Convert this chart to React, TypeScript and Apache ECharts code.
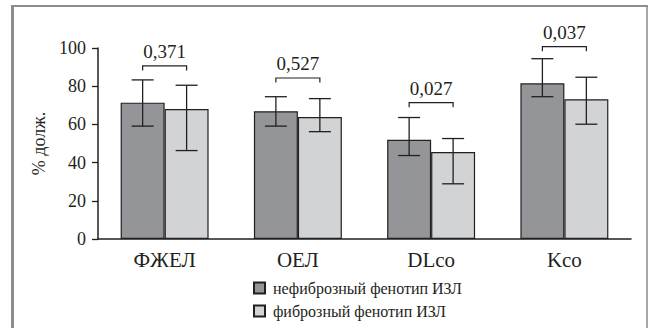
import React, { useEffect, useRef } from "react";
import * as echarts from "echarts";

const categories = ["ФЖЕЛ", "ОЕЛ", "DLco", "Kco"];
const seriesNames = ["нефиброзный фенотип ИЗЛ", "фиброзный фенотип ИЗЛ"];
const nonFibMean = [71.4, 66.9, 51.9, 81.5];
const nonFibLow = [59.1, 59.1, 43.7, 74.5];
const nonFibHigh = [83.3, 74.5, 63.6, 94.4];
const fibMean = [68.1, 63.9, 45.5, 73.2];
const fibLow = [46.3, 56.2, 28.9, 60.1];
const fibHigh = [80.5, 73.5, 52.6, 84.7];
const pLabels = ["0,371", "0,527", "0,027", "0,037"];
const bracketLevels = [90.6, 84.3, 71.4, 100.7];
const yName = "% долж.";

const FONT = "Liberation Serif";
const INK = "#231f20";
const DARK = "#939598";
const LIGHT = "#d1d3d4";
const BAR_FRAC = 0.165;

function errorSeries(low: number[], high: number[], sign: number) {
  return {
    type: "custom",
    silent: true,
    z: 5,
    data: categories.map((_, i) => [i, low[i], high[i]]),
    encode: { x: 0, y: [1, 2] },
    renderItem: (params: any, api: any) => {
      const cat = api.value(0);
      const lo = api.value(1);
      const hi = api.value(2);
      const band = api.size([1, 0])[0];
      const pLo = api.coord([cat, lo]);
      const pHi = api.coord([cat, hi]);
      const x = pLo[0] + sign * band * BAR_FRAC;
      const hc = band * BAR_FRAC * 0.5;
      const style = { stroke: INK, lineWidth: 1.3 };
      return {
        type: "group",
        children: [
          { type: "line", shape: { x1: x, y1: pHi[1], x2: x, y2: pLo[1] }, style },
          { type: "line", shape: { x1: x - hc, y1: pHi[1], x2: x + hc, y2: pHi[1] }, style },
          { type: "line", shape: { x1: x - hc, y1: pLo[1], x2: x + hc, y2: pLo[1] }, style },
        ],
      };
    },
  };
}

export default function App() {
  const ref = useRef<HTMLDivElement>(null);
  useEffect(() => {
    if (!ref.current) return;
    const chart = echarts.init(ref.current, undefined, { renderer: "svg" });
    chart.setOption({
      animation: false,
      backgroundColor: "#ffffff",
      textStyle: { fontFamily: FONT, color: INK },
      grid: { left: 98, top: 48, width: 533, bottom: 89 },
      legend: {
        data: seriesNames,
        orient: "vertical",
        left: 253,
        top: 280,
        padding: 0,
        itemWidth: 11,
        itemHeight: 11,
        itemGap: 7,
        icon: "rect",
        textStyle: { fontFamily: FONT, fontSize: 16, color: INK, padding: [0, 0, 0, 3] },
      },
      xAxis: {
        type: "category",
        data: categories,
        axisLine: { lineStyle: { color: INK, width: 1.5, opacity: 1 } },
        axisTick: { alignWithLabel: true, length: 6, lineStyle: { color: INK, width: 1.3 } },
        axisLabel: { fontFamily: FONT, fontSize: 21, color: INK, margin: 10 },
      },
      yAxis: {
        type: "value",
        min: 0,
        max: 100,
        interval: 20,
        name: yName,
        nameLocation: "middle",
        nameRotate: 90,
        nameGap: 42,
        nameTextStyle: { fontFamily: FONT, fontSize: 18, color: INK },
        axisLine: { show: true, lineStyle: { color: INK, width: 1.5, opacity: 1 } },
        axisTick: { show: true, length: 6, lineStyle: { color: INK, width: 1.3 } },
        axisLabel: { fontFamily: FONT, fontSize: 18, color: INK, margin: 12 },
        splitLine: { show: false },
      },
      series: [
        {
          name: seriesNames[0],
          type: "bar",
          data: nonFibMean,
          barGap: "0%",
          barCategoryGap: "34%",
          itemStyle: { color: DARK, borderColor: INK, borderWidth: 1.2 },
        },
        {
          name: seriesNames[1],
          type: "bar",
          data: fibMean,
          barGap: "0%",
          barCategoryGap: "34%",
          itemStyle: { color: LIGHT, borderColor: INK, borderWidth: 1.2 },
        },
        errorSeries(nonFibLow, nonFibHigh, -1),
        errorSeries(fibLow, fibHigh, 1),
        {
          type: "custom",
          silent: true,
          z: 6,
          data: categories.map((_, i) => [i, bracketLevels[i], pLabels[i]]),
          encode: { x: 0, y: 1 },
          renderItem: (params: any, api: any) => {
            const i = params.dataIndex;
            const band = api.size([1, 0])[0];
            const p = api.coord([i, bracketLevels[i]]);
            const off = band * BAR_FRAC;
            const x1 = p[0] - off;
            const x2 = p[0] + off;
            const y = p[1];
            return {
              type: "group",
              children: [
                {
                  type: "polyline",
                  shape: { points: [[x1, y + 4.5], [x1, y], [x2, y], [x2, y + 4.5]] },
                  style: { stroke: INK, lineWidth: 1.2, fill: "none" },
                },
                {
                  type: "text",
                  x: p[0],
                  y: y - 5,
                  style: {
                    text: pLabels[i],
                    fontFamily: FONT,
                    fontSize: 19,
                    fill: INK,
                    align: "center",
                    verticalAlign: "bottom",
                  },
                },
              ],
            };
          },
        },
      ],
      graphic: [
        { type: "line", shape: { x1: 12.5, y1: 6, x2: 12.5, y2: 328 }, style: { stroke: "#8c8c8c", lineWidth: 3 } },
        { type: "line", shape: { x1: 11, y1: 6, x2: 648, y2: 6 }, style: { stroke: "#8c8c8c", lineWidth: 2 } },
        { type: "line", shape: { x1: 647, y1: 6, x2: 647, y2: 328 }, style: { stroke: "#8c8c8c", lineWidth: 1.5 } },
      ],
    });
    return () => chart.dispose();
  }, []);
  return (
    <div
      ref={ref}
      style={{ position: "fixed", left: 0, top: 0, width: 649, height: 328 }}
    />
  );
}
